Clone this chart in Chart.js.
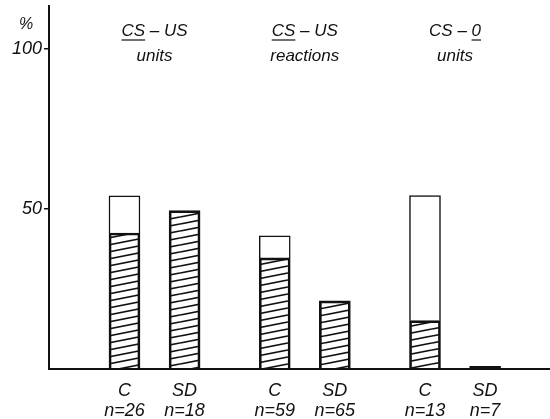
<!DOCTYPE html>
<html>
<head>
<meta charset="utf-8">
<script src="https://cdn.jsdelivr.net/npm/chart.js@4"></script>
<style>
  html, body { margin: 0; padding: 0; background: #fff; }
</style>
</head>
<body>
<canvas id="graficoBarras" width="550" height="419"></canvas>
<script>
// three experimental groups, a C bar and an SD bar in each
const groupNames = ['units', 'reactions', 'units'];
const groupHeads = [['CS', ' – US'], ['CS', ' – US'], ['CS – ', '0']];
const underlinedPart = [0, 0, 1];

const barLabels = ['C', 'SD', 'C', 'SD', 'C', 'SD'];
const caseCounts = [26, 18, 59, 65, 13, 7];
const barSlots = [0, 1, 2.5, 3.5, 5, 6];

// % of cases: hatched share and the full bar height
const hatchedPct = [42.5, 49.5, 34.7, 21.3, 15.1, 0.8];
const totalPct = [54.1, 49.5, 41.6, 21.3, 54.2, 0.8];

const yTicks = [50, 100];

const ink = '#111';
const fontFamily = '"Liberation Sans", Arial, sans-serif';

function makeHatch() {
    const tile = document.createElement('canvas');
    tile.width = 36;
    tile.height = 7;
    const t = tile.getContext('2d');
    t.strokeStyle = ink;
    t.lineWidth = 1.7;
    for (const dy of [-7, 0, 7]) {
        t.beginPath();
        t.moveTo(0, 7 + dy);
        t.lineTo(36, dy);
        t.stroke();
    }
    return t.createPattern(tile, 'repeat');
}

// titles over each pair of bars and the % sign at the top of the axis
const groupHeaders = {
    id: 'groupHeaders',
    afterDraw(chart) {
        const { ctx, scales: { x } } = chart;
        ctx.save();
        ctx.fillStyle = ink;
        ctx.strokeStyle = ink;
        ctx.lineWidth = 1.2;
        ctx.textBaseline = 'middle';
        ctx.font = 'italic 17px ' + fontFamily;

        groupHeads.forEach((parts, g) => {
            const cx = x.getPixelForValue((barSlots[2 * g] + barSlots[2 * g + 1]) / 2);
            const widths = parts.map((p) => ctx.measureText(p).width);
            let left = cx - (widths[0] + widths[1]) / 2;
            ctx.textAlign = 'left';
            parts.forEach((p, i) => {
                ctx.fillText(p, left, 31);
                if (i === underlinedPart[g]) {
                    const w = ctx.measureText(p.trim()).width;
                    const start = p.startsWith(' ') ? left + widths[i] - w : left;
                    ctx.beginPath();
                    ctx.moveTo(start, 40);
                    ctx.lineTo(start + w, 40);
                    ctx.stroke();
                }
                left += widths[i];
            });
            ctx.textAlign = 'center';
            ctx.fillText(groupNames[g], cx, 56);
        });

        ctx.font = 'italic 16px ' + fontFamily;
        ctx.textAlign = 'center';
        ctx.fillText('%', 26, 25);
        ctx.restore();
    }
};

window.onload = function () {

    const grafico = document.getElementById('graficoBarras');
    const hatch = makeHatch();

    new Chart(grafico, {
        type: 'bar',
        data: {
            datasets: [{
                label: 'hatched',
                data: barSlots.map((s, i) => ({ x: s, y: hatchedPct[i] })),
                backgroundColor: hatch,
                borderColor: ink,
                borderWidth: 2,
                grouped: false,
                barThickness: 31
            }, {
                label: 'open',
                data: barSlots
                    .map((s, i) => ({ x: s, y: [hatchedPct[i], totalPct[i]] }))
                    .filter((d) => d.y[1] > d.y[0]),
                backgroundColor: '#fff',
                borderColor: ink,
                borderWidth: 1.5,
                grouped: false,
                barThickness: 31
            }]
        },
        options: {
            responsive: false,
            animation: false,
            devicePixelRatio: 1,
            layout: { padding: { top: 6, left: 0, right: 0, bottom: 0 } },
            plugins: {
                legend: { display: false },
                tooltip: { enabled: false }
            },
            scales: {
                x: {
                    type: 'linear',
                    offset: false,
                    min: -1.256,
                    max: 7.08,
                    afterBuildTicks: (scale) => {
                        scale.ticks = barSlots.map((v) => ({ value: v }));
                    },
                    afterFit: (scale) => {
                        scale.height = 50;
                        scale.paddingLeft = 0;
                        scale.paddingRight = 0;
                    },
                    grid: { display: false },
                    border: { color: ink, width: 2 },
                    ticks: {
                        color: ink,
                        padding: 4,
                        autoSkip: false,
                        maxRotation: 0,
                        font: { family: fontFamily, size: 18, style: 'italic', lineHeight: 1.1 },
                        callback: (value, index) => [barLabels[index], 'n=' + caseCounts[index]]
                    }
                },
                y: {
                    min: 0,
                    max: 113.4,
                    afterBuildTicks: (scale) => {
                        scale.ticks = yTicks.map((v) => ({ value: v }));
                    },
                    afterFit: (scale) => {
                        scale.width = 49;
                        scale.paddingTop = 0;
                        scale.paddingBottom = 0;
                    },
                    grid: { drawOnChartArea: false, tickLength: 5, color: ink, lineWidth: 1.5 },
                    border: { color: ink, width: 2 },
                    ticks: {
                        color: ink,
                        padding: 2,
                        font: { family: fontFamily, size: 18, style: 'italic' }
                    }
                }
            }
        },
        plugins: [groupHeaders]
    });

}
</script>
</body>
</html>
